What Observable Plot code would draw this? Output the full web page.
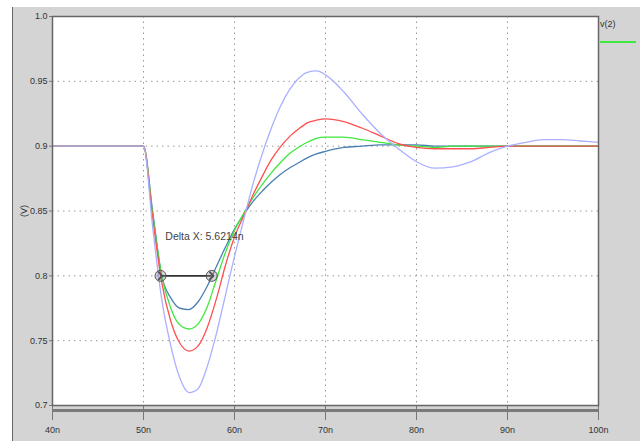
<!DOCTYPE html>
<html>
<head>
<meta charset="utf-8">
<script src="https://cdn.jsdelivr.net/npm/d3@7"></script>
<script src="https://cdn.jsdelivr.net/npm/@observablehq/plot@0.6"></script>
<style>
  html, body { margin: 0; padding: 0; background: #fff; }
  #wrap { position: relative; width: 640px; height: 441px; overflow: hidden; font-family: "Liberation Sans Narrow", "Liberation Sans", Arial, sans-serif; }
  #panel { position: absolute; left: 12px; top: 7px; right: 0; bottom: 0; background: #d4d4d4; border-left: 1px solid #666; }
  #chart { position: absolute; left: 0; top: 0; }
  #legend-label { position: absolute; left: 600px; top: 19px; font-size: 9px; color: #333; }
  #legend-line { position: absolute; left: 600px; top: 41px; width: 36px; height: 2px; background: #3ee83e; }
</style>
</head>
<body>
<div id="wrap">
  <div id="panel"></div>
  <div id="chart"></div>
  <div id="legend-label">v(2)</div>
  <div id="legend-line"></div>
</div>
<script>
// time in ns
const time = [40, 49, 50, 51, 52, 53, 54, 55, 56, 57, 58, 59, 60, 61, 62, 63, 64, 65, 66, 67, 68, 69, 70, 72, 74, 76, 78, 80, 82, 84, 86, 88, 90, 92, 94, 96, 98, 100];

const seriesD = [0.9, 0.9, 0.9, 0.850, 0.800, 0.783, 0.775, 0.774, 0.780, 0.792, 0.807, 0.822, 0.836, 0.847, 0.857, 0.865, 0.872, 0.878, 0.883, 0.887, 0.891, 0.894, 0.896, 0.899, 0.900, 0.901, 0.901, 0.901, 0.900, 0.900, 0.900, 0.900, 0.900, 0.900, 0.900, 0.900, 0.900, 0.900];
const seriesC = [0.9, 0.9, 0.9, 0.848, 0.800, 0.775, 0.762, 0.759, 0.763, 0.776, 0.797, 0.818, 0.835, 0.848, 0.860, 0.870, 0.879, 0.887, 0.894, 0.899, 0.903, 0.906, 0.907, 0.907, 0.905, 0.903, 0.901, 0.900, 0.899, 0.900, 0.900, 0.900, 0.900, 0.900, 0.900, 0.900, 0.900, 0.900];
const seriesB = [0.9, 0.9, 0.9, 0.845, 0.795, 0.765, 0.748, 0.742, 0.746, 0.760, 0.782, 0.808, 0.830, 0.846, 0.862, 0.876, 0.889, 0.899, 0.907, 0.913, 0.918, 0.920, 0.921, 0.919, 0.914, 0.908, 0.902, 0.899, 0.898, 0.898, 0.898, 0.899, 0.900, 0.900, 0.900, 0.900, 0.900, 0.900];
const seriesA = [0.9, 0.9, 0.9, 0.838, 0.782, 0.746, 0.721, 0.710, 0.713, 0.730, 0.755, 0.785, 0.815, 0.843, 0.870, 0.893, 0.913, 0.930, 0.943, 0.952, 0.957, 0.958, 0.955, 0.942, 0.925, 0.910, 0.898, 0.888, 0.883, 0.884, 0.888, 0.895, 0.900, 0.903, 0.905, 0.905, 0.904, 0.903];

// drawing order: steel blue first, lavender last (on top)
const seriesNames  = ["sD", "sC", "sB", "sA"];
const seriesValues = [seriesD, seriesC, seriesB, seriesA];
const seriesColors = ["#4a7fb3", "#3ee83e", "#ff4f4f", "#aab0ff"];

const xTicks  = [40, 50, 60, 70, 80, 90, 100];
const xLabels = ["40n", "50n", "60n", "70n", "80n", "90n", "100n"];
const yTicks  = [0.7, 0.75, 0.8, 0.85, 0.9, 0.95, 1.0];
const yLabels = ["0.7", "0.75", "0.8", "0.85", "0.9", "0.95", "1.0"];
const xGrid = [50, 60, 70, 80, 90];
const yGrid = [0.75, 0.8, 0.85, 0.9, 0.95];

// cursor measurement
const cursorStart = 51.87;
const deltaX = 5.6214;
const cursorLevel = 0.8;
const cursorText = "Delta X: 5.6214n";
const cursorTextPos = {t: 52.4, v: 0.83};

const rows = [];
seriesNames.forEach((s, k) => time.forEach((t, i) => rows.push({s, t, v: seriesValues[k][i]})));
const cursors = [{t: cursorStart, v: cursorLevel}, {t: cursorStart + deltaX, v: cursorLevel}];

const xFmt = new Map(xTicks.map((d, i) => [d, xLabels[i]]));
const yFmt = new Map(yTicks.map((d, i) => [d, yLabels[i]]));

const chart = Plot.plot({
  width: 640,
  height: 441,
  marginLeft: 52,
  marginRight: 42,
  marginTop: 16,
  marginBottom: 36,
  style: {background: "transparent", fontFamily: "'Liberation Sans Narrow', 'Liberation Sans', Arial, sans-serif", fontSize: "9px", color: "#333"},
  x: {domain: [40, 100]},
  y: {domain: [0.7, 1.0]},
  color: {domain: seriesNames, range: seriesColors},
  marks: [
    Plot.frame({fill: "white"}),
    Plot.gridX(xGrid, {stroke: "#999", strokeOpacity: 1, strokeDasharray: "1.5,4"}),
    Plot.gridY(yGrid, {stroke: "#999", strokeOpacity: 1, strokeDasharray: "1.5,4"}),
    Plot.axisX(xTicks, {tickSize: 15, tickPadding: 6, stroke: "#777", tickFormat: d => xFmt.get(d), label: null}),
    Plot.axisY(yTicks, {tickSize: 3, tickPadding: 2, stroke: "#777", tickFormat: d => yFmt.get(d), label: "(V)", labelAnchor: "center", labelArrow: "none", labelOffset: 32}),
    Plot.line(rows, {x: "t", y: "v", z: "s", stroke: "s", strokeWidth: 1.3, curve: "monotone-x"}),
    Plot.frame({stroke: "#666", strokeWidth: 1.5}),
    Plot.ruleY([0.7], {dy: 5, stroke: "#7a7a7a", strokeWidth: 3}),
    Plot.link([0], {x1: () => cursors[0].t, x2: () => cursors[1].t, y1: () => cursorLevel, y2: () => cursorLevel, stroke: "#333", strokeWidth: 1.8, markerStart: "arrow", markerEnd: "arrow"}),
    Plot.dot(cursors, {x: "t", y: "v", r: 5.5, fill: "#888", fillOpacity: 0.35, stroke: "#555", strokeWidth: 1}),
    Plot.text([cursorTextPos], {x: "t", y: "v", text: () => cursorText, textAnchor: "start", fill: "#444", fontSize: 10.5})
  ]
});
document.getElementById("chart").appendChild(chart);
</script>
</body>
</html>
